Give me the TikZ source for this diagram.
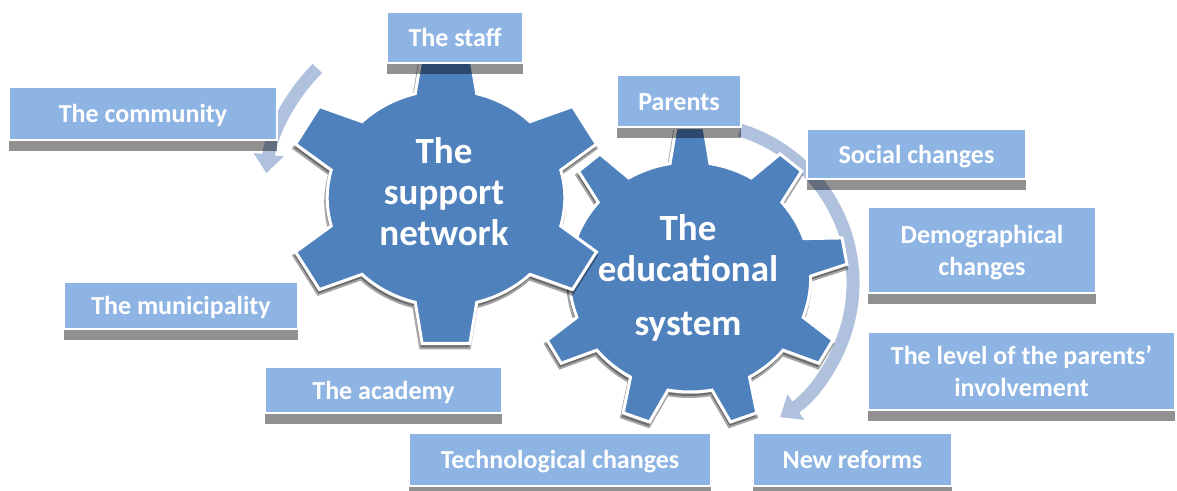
\documentclass[tikz,border=0pt]{standalone}
\usepackage{fontspec}
\setmainfont{Carlito}
\usetikzlibrary{arrows.meta,shadows}

\definecolor{gearblue}{RGB}{79,129,189}
\definecolor{boxblue}{RGB}{142,180,227}
\definecolor{arcblue}{RGB}{176,193,222}

% outline of a gear: teeth, tip radius, root radius, tip half angle, base half angle, first tooth
\newcommand{\geartrace}[6]{%
  ({#6-#5}:#3) \foreach \k in {1,...,#1}{
    -- ({#6+360/#1*(\k-1)-#4}:#2) -- ({#6+360/#1*(\k-1)+#4}:#2)
    -- ({#6+360/#1*(\k-1)+#5}:#3)
    arc[start angle={#6+360/#1*(\k-1)+#5}, end angle={#6+360/#1*\k-#5}, radius=#3]
  } -- cycle}

\begin{document}
\begin{tikzpicture}[x=0.75pt, y=-0.75pt,
  box/.style={fill=boxblue, draw=white, line width=1.1pt, text=white, align=center, inner sep=0pt,
    text depth=0pt, font=\fontsize{19.5}{24}\selectfont\bfseries,
    general shadow={fill=black, opacity=.43, shadow yshift=-8.25pt}},
  oneline/.style={box, text height=13.5pt},
  gear/.style={fill=gearblue, draw=white, line width=2.25pt},
  gearshadow/.style={fill=black, draw=black, line width=3pt, opacity=.35},
  gearlabel/.style={text=white, align=center, font=\fontsize{27.75}{30.75}\selectfont\bfseries},
  turn/.style={draw=arcblue, line width=9.75pt, -{Triangle[width=22pt,length=14pt]}}]
	\useasboundingbox (0,0) rectangle (1177,490);

	% turning arrows round the gears
	\coordinate (hubA) at (444,195);
	\coordinate (hubB) at (693,283);
	\draw[turn] (hubA) ++(-135:179) arc[start angle=-135, end angle=-173, radius=179];
	\draw[turn] (hubB) ++(-73:160) arc[start angle=-73, end angle=57, radius=160];

	% the gears
	\draw[gearshadow, shift={(689,281)}, xscale=1.05] \geartrace{9}{150}{115}{5.1}{9.5}{270};
	\draw[gear, shift={(690,277)}, xscale=1.05] \geartrace{9}{150}{115}{5.1}{9.5}{270};
	\draw[gearshadow, shift={(445,202)}, xscale=1.1] \geartrace{6}{147}{108}{8.5}{15}{270};
	\draw[gear, shift={(446,198)}, xscale=1.1] \geartrace{6}{147}{108}{8.5}{15}{270};

	\node[gearlabel] (support) at (444,192) {The\\support\\network};
	\node[gearlabel] (school) at (688,278) {The\\educational\\[10pt]system};

	% boxes
	\node[oneline, minimum width=102pt, minimum height=38.25pt] (staff) at (455,37.5) {The staff};
	\node[oneline, minimum width=201pt, minimum height=39.75pt] (community) at (143,113.5) {The community};
	\node[oneline, minimum width=175.5pt, minimum height=35.25pt] (municipality) at (181,305.5) {The municipality};
	\node[oneline, minimum width=177.75pt, minimum height=34.5pt] (academy) at (383.5,390) {The academy};
	\node[oneline, minimum width=226.5pt, minimum height=39.75pt] (techno) at (560,459.5) {Technological changes};
	\node[oneline, minimum width=149.25pt, minimum height=39.75pt] (reforms) at (852.5,459.5) {New reforms};
	\node[oneline, minimum width=93pt, minimum height=39pt] (parents) at (679,101) {Parents};
	\node[oneline, minimum width=164.25pt, minimum height=37.5pt] (social) at (916.5,154) {Social changes};
	\node[box, minimum width=171pt, minimum height=64.5pt] (demo) at (982,250) {Demographical\\changes};
	\node[box, minimum width=230.25pt, minimum height=58.5pt] (level) at (1021.5,371) {The level of the parents’\\involvement};
\end{tikzpicture}
\end{document}
